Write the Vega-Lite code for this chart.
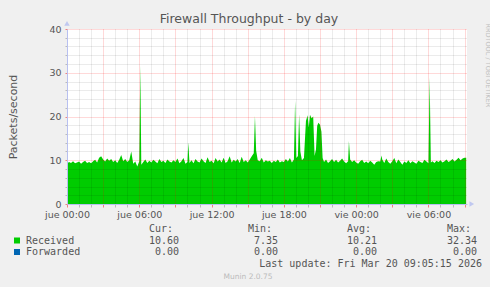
{
  "$schema": "https://vega.github.io/schema/vega-lite/v6.json",
  "background": "#f0f0f0",
  "padding": {"left": 7, "top": 13, "right": 0, "bottom": 10},
  "title": {"text": "Firewall Throughput - by day", "font": "DejaVu Sans", "fontSize": 12.5, "fontWeight": "normal", "color": "#555555", "anchor": "middle", "offset": -5},
  "config": {"view": {"stroke": null, "fill": null}, "font": "DejaVu Sans"},
  "spacing": 0,
  "datasets": {
    "traffic": [
      {"m":0,"v":9.2},{"m":10,"v":9.6},{"m":20,"v":9.4},{"m":30,"v":9.8},{"m":40,"v":9.3},{"m":50,"v":9.5},
      {"m":60,"v":9.7},{"m":70,"v":9.2},{"m":80,"v":9.6},{"m":90,"v":9.9},{"m":100,"v":9.4},{"m":110,"v":9.6},
      {"m":120,"v":9.3},{"m":130,"v":9.8},{"m":140,"v":10.1},{"m":150,"v":9.5},{"m":160,"v":10.6},{"m":170,"v":10.9},
      {"m":180,"v":10.2},{"m":190,"v":9.7},{"m":200,"v":10.4},{"m":210,"v":9.9},{"m":220,"v":10.3},{"m":230,"v":9.6},
      {"m":240,"v":10.0},{"m":250,"v":9.4},{"m":260,"v":10.1},{"m":270,"v":11.2},{"m":280,"v":9.8},{"m":290,"v":10.3},
      {"m":300,"v":9.6},{"m":310,"v":10.0},{"m":320,"v":12.0},{"m":330,"v":9.2},{"m":340,"v":9.7},{"m":350,"v":8.6},
      {"m":360,"v":9.8},{"m":365,"v":31.6},{"m":370,"v":9.0},{"m":380,"v":9.6},{"m":390,"v":10.2},{"m":400,"v":9.4},{"m":410,"v":9.9},
      {"m":420,"v":9.5},{"m":430,"v":10.1},{"m":440,"v":9.7},{"m":450,"v":9.3},{"m":460,"v":10.3},{"m":470,"v":9.6},
      {"m":480,"v":9.9},{"m":490,"v":9.4},{"m":500,"v":10.2},{"m":510,"v":9.7},{"m":520,"v":9.5},{"m":530,"v":10.0},
      {"m":540,"v":9.6},{"m":550,"v":10.4},{"m":560,"v":9.3},{"m":570,"v":9.8},{"m":580,"v":10.5},{"m":590,"v":9.2},
      {"m":600,"v":9.6},{"m":604,"v":14.1},{"m":610,"v":9.4},{"m":620,"v":10.0},{"m":630,"v":9.3},{"m":640,"v":10.3},{"m":650,"v":9.7},
      {"m":660,"v":9.5},{"m":670,"v":10.4},{"m":680,"v":9.8},{"m":690,"v":9.4},{"m":700,"v":10.7},{"m":710,"v":9.6},
      {"m":720,"v":9.9},{"m":730,"v":9.3},{"m":740,"v":10.5},{"m":750,"v":9.7},{"m":760,"v":10.2},{"m":770,"v":9.5},
      {"m":780,"v":10.6},{"m":790,"v":9.4},{"m":800,"v":9.8},{"m":810,"v":10.9},{"m":820,"v":9.5},{"m":830,"v":10.1},
      {"m":840,"v":9.7},{"m":850,"v":10.3},{"m":860,"v":9.4},{"m":870,"v":10.8},{"m":880,"v":9.6},{"m":890,"v":10.0},
      {"m":900,"v":9.5},{"m":910,"v":10.2},{"m":920,"v":10.9},{"m":930,"v":11.6},{"m":936,"v":20.1},{"m":942,"v":12.2},{"m":950,"v":10.0},
      {"m":960,"v":9.8},{"m":970,"v":10.6},{"m":980,"v":9.5},{"m":990,"v":10.0},{"m":1000,"v":9.7},{"m":1010,"v":9.9},
      {"m":1020,"v":9.4},{"m":1030,"v":9.9},{"m":1040,"v":9.6},{"m":1050,"v":10.2},{"m":1060,"v":9.5},{"m":1070,"v":9.8},
      {"m":1080,"v":9.6},{"m":1090,"v":10.3},{"m":1100,"v":9.7},{"m":1110,"v":10.5},{"m":1120,"v":9.5},{"m":1130,"v":10.2},
      {"m":1136,"v":23.6},{"m":1142,"v":10.5},{"m":1150,"v":11.0},{"m":1156,"v":20.6},{"m":1162,"v":12.0},{"m":1170,"v":10.0},
      {"m":1180,"v":10.5},{"m":1190,"v":19.0},{"m":1198,"v":20.3},{"m":1204,"v":17.5},{"m":1210,"v":20.4},{"m":1218,"v":19.6},
      {"m":1226,"v":20.0},{"m":1233,"v":11.0},{"m":1240,"v":12.5},{"m":1246,"v":17.9},{"m":1252,"v":18.6},{"m":1260,"v":18.1},
      {"m":1267,"v":16.5},{"m":1273,"v":10.5},{"m":1280,"v":9.6},{"m":1290,"v":10.2},{"m":1300,"v":9.4},{"m":1310,"v":9.8},
      {"m":1320,"v":10.3},{"m":1330,"v":9.6},{"m":1340,"v":10.1},{"m":1350,"v":9.5},{"m":1360,"v":9.9},{"m":1370,"v":10.4},
      {"m":1380,"v":9.7},{"m":1390,"v":9.3},{"m":1400,"v":9.8},{"m":1404,"v":14.4},{"m":1410,"v":10.2},{"m":1420,"v":9.6},{"m":1430,"v":10.0},
      {"m":1440,"v":9.5},{"m":1450,"v":9.2},{"m":1460,"v":9.8},{"m":1470,"v":10.1},{"m":1480,"v":9.4},{"m":1490,"v":9.7},
      {"m":1500,"v":9.3},{"m":1510,"v":9.9},{"m":1520,"v":9.5},{"m":1530,"v":9.0},{"m":1540,"v":9.6},{"m":1550,"v":9.8},
      {"m":1560,"v":9.7},{"m":1566,"v":11.1},{"m":1570,"v":10.2},{"m":1580,"v":9.4},{"m":1590,"v":10.4},{"m":1600,"v":9.6},{"m":1610,"v":9.2},
      {"m":1620,"v":9.8},{"m":1630,"v":10.5},{"m":1640,"v":9.3},{"m":1650,"v":10.2},{"m":1660,"v":9.6},{"m":1670,"v":9.0},
      {"m":1680,"v":9.7},{"m":1690,"v":9.4},{"m":1700,"v":10.0},{"m":1710,"v":9.3},{"m":1720,"v":9.8},{"m":1730,"v":9.5},
      {"m":1740,"v":9.2},{"m":1750,"v":9.9},{"m":1760,"v":9.6},{"m":1770,"v":9.4},{"m":1780,"v":10.1},{"m":1790,"v":9.7},
      {"m":1800,"v":9.3},{"m":1806,"v":28.9},{"m":1812,"v":9.5},{"m":1820,"v":9.8},{"m":1830,"v":9.4},{"m":1840,"v":9.9},{"m":1850,"v":9.6},
      {"m":1860,"v":10.0},{"m":1870,"v":9.5},{"m":1880,"v":9.8},{"m":1890,"v":10.2},{"m":1900,"v":9.6},{"m":1910,"v":9.9},
      {"m":1920,"v":10.3},{"m":1930,"v":9.7},{"m":1940,"v":10.1},{"m":1950,"v":10.6},{"m":1960,"v":10.0},{"m":1970,"v":10.4},
      {"m":1980,"v":10.6},{"m":1988,"v":10.6}
    ],
    "swatch": [
      {"series": "Received", "col": 0, "row": 1},
      {"series": "Forwarded", "col": 0, "row": 2}
    ],
    "labels": [
      {"text": "Received", "col": 1, "row": 1},
      {"text": "Forwarded", "col": 1, "row": 2}
    ],
    "headers": [
      {"text": "Cur:", "col": 2, "row": 0},
      {"text": "Min:", "col": 3, "row": 0},
      {"text": "Avg:", "col": 4, "row": 0},
      {"text": "Max:", "col": 5, "row": 0}
    ],
    "values": [
      {"text": "10.60", "col": 2, "row": 1},
      {"text": "7.35", "col": 3, "row": 1},
      {"text": "10.21", "col": 4, "row": 1},
      {"text": "32.34", "col": 5, "row": 1},
      {"text": "0.00", "col": 2, "row": 2},
      {"text": "0.00", "col": 3, "row": 2},
      {"text": "0.00", "col": 4, "row": 2},
      {"text": "0.00", "col": 5, "row": 2},
      {"text": "Last update: Fri Mar 20 09:05:15 2026", "col": 6, "row": 3}
    ],
    "footer": [
      {"text": "Munin 2.0.75", "col": 7, "row": 4}
    ]
  },
  "vconcat": [
    {
      "width": 400,
      "height": 175,
      "view": {"fill": "white", "stroke": null},
      "resolve": {"axis": {"x": "independent", "y": "independent"}},
      "layer": [
        {
          "data": {"name": "traffic"},
          "mark": {"type": "area", "color": "#00cc00", "interpolate": "linear", "opacity": 1},
          "encoding": {
            "x": {
              "field": "m", "type": "quantitative",
              "scale": {"domain": [0, 1992], "nice": false, "zero": false},
              "axis": {
                "values": [0,60,120,180,240,300,360,420,480,540,600,660,720,780,840,900,960,1020,1080,1140,1200,1260,1320,1380,1440,1500,1560,1620,1680,1740,1800,1860,1920,1980],
                "grid": true, "gridDash": [1, 1],
                "gridColor": {"condition": {"test": "datum.value % 180 === 0", "value": "rgba(255,0,0,0.3)"}, "value": "rgba(0,0,0,0.15)"},
                "tickColor": {"condition": {"test": "datum.value % 180 === 0", "value": "#f08080"}, "value": "#bbbbbb"},
                "tickSize": 3,
                "domainColor": "#b8c0f0",
                "labelExpr": "datum.value % 360 === 0 ? (datum.value < 1440 ? 'jue ' : 'vie ') + (floor(datum.value / 60) % 24 < 10 ? '0' : '') + (floor(datum.value / 60) % 24) + ':00' : ''",
                "labelFont": "DejaVu Sans", "labelFontSize": 9.5, "labelColor": "#555555",
                "labelPadding": 2, "labelFlush": false, "labelOverlap": false,
                "title": null, "zindex": 1
              }
            },
            "y": {
              "field": "v", "type": "quantitative",
              "scale": {"domain": [0, 40], "nice": false, "zero": true},
              "axis": {
                "values": [0,2,4,6,8,10,12,14,16,18,20,22,24,26,28,30,32,34,36,38,40],
                "grid": true, "gridDash": [1, 1],
                "gridColor": {"condition": {"test": "datum.value % 10 === 0", "value": "rgba(255,0,0,0.3)"}, "value": "rgba(0,0,0,0.16)"},
                "tickColor": {"condition": {"test": "datum.value % 10 === 0", "value": "#f08080"}, "value": "#bbbbbb"},
                "tickSize": 2,
                "domainColor": "#b8c0f0",
                "labelExpr": "datum.value % 10 === 0 ? datum.label : ''",
                "labelFont": "DejaVu Sans", "labelFontSize": 9.5, "labelColor": "#555555",
                "labelPadding": 4, "labelFlush": false, "labelOverlap": false,
                "title": "Packets/second", "titleFont": "DejaVu Sans", "titleFontSize": 11,
                "titleFontWeight": "normal", "titleColor": "#555555", "titlePadding": 30,
                "zindex": 1
              }
            }
          }
        },
        {
          "data": {"values": [{}]},
          "mark": {"type": "point", "shape": "triangle-up", "filled": true, "size": 30, "color": "#c0c8f0", "opacity": 1},
          "encoding": {
            "x": {"datum": 0, "type": "quantitative", "scale": {"domain": [0, 1992], "nice": false, "zero": false}, "axis": null},
            "y": {"datum": 41.3, "type": "quantitative", "scale": {"domain": [0, 40], "nice": false, "zero": true}, "axis": null}
          }
        },
        {
          "data": {"values": [{}]},
          "mark": {"type": "point", "shape": "triangle-right", "filled": true, "size": 30, "color": "#c0c8f0", "opacity": 1},
          "encoding": {
            "x": {"datum": 2016, "type": "quantitative", "scale": {"domain": [0, 1992], "nice": false, "zero": false}, "axis": null},
            "y": {
              "datum": 0, "type": "quantitative",
              "scale": {"domain": [0, 40], "nice": false, "zero": true},
              "axis": {
                "orient": "right", "labels": false, "ticks": false, "domain": false, "grid": false,
                "title": "RRDTOOL / TOBI OETIKER", "titleAngle": 90, "titleFont": "DejaVu Sans",
                "titleFontSize": 6.5, "titleFontWeight": "normal", "titleColor": "#c0c0c0",
                "titleAlign": "left", "titleBaseline": "middle", "titleX": 20, "titleY": -6
              }
            }
          }
        }
      ]
    },
    {
      "width": 400,
      "height": 62,
      "layer": [
        {
          "data": {"name": "swatch"},
          "mark": {"type": "square", "size": 36, "opacity": 1, "filled": true},
          "encoding": {
            "x": {"field": "col", "type": "quantitative", "scale": {"domain": [0,1,2,3,4,5,6,7], "range": [-50,-41,112,211,310,410,415,181], "nice": false, "zero": false}, "axis": null},
            "y": {"field": "row", "type": "quantitative", "scale": {"domain": [0,1,2,3,4], "range": [10,21.5,33,45,58], "nice": false, "zero": false}, "axis": null},
            "color": {"field": "series", "type": "nominal", "scale": {"domain": ["Received", "Forwarded"], "range": ["#00cc00", "#0066b3"]}, "legend": null}
          }
        },
        {
          "data": {"name": "labels"},
          "mark": {"type": "text", "align": "left", "baseline": "middle", "font": "DejaVu Sans Mono", "fontSize": 10, "color": "#555555"},
          "encoding": {
            "x": {"field": "col", "type": "quantitative", "scale": {"domain": [0,1,2,3,4,5,6,7], "range": [-50,-41,112,211,310,410,415,181], "nice": false, "zero": false}, "axis": null},
            "y": {"field": "row", "type": "quantitative", "scale": {"domain": [0,1,2,3,4], "range": [10,21.5,33,45,58], "nice": false, "zero": false}, "axis": null},
            "text": {"field": "text"}
          }
        },
        {
          "data": {"name": "headers"},
          "mark": {"type": "text", "align": "right", "baseline": "middle", "dx": -6, "font": "DejaVu Sans Mono", "fontSize": 10, "color": "#555555"},
          "encoding": {
            "x": {"field": "col", "type": "quantitative", "scale": {"domain": [0,1,2,3,4,5,6,7], "range": [-50,-41,112,211,310,410,415,181], "nice": false, "zero": false}, "axis": null},
            "y": {"field": "row", "type": "quantitative", "scale": {"domain": [0,1,2,3,4], "range": [10,21.5,33,45,58], "nice": false, "zero": false}, "axis": null},
            "text": {"field": "text"}
          }
        },
        {
          "data": {"name": "values"},
          "mark": {"type": "text", "align": "right", "baseline": "middle", "font": "DejaVu Sans Mono", "fontSize": 10, "color": "#555555"},
          "encoding": {
            "x": {"field": "col", "type": "quantitative", "scale": {"domain": [0,1,2,3,4,5,6,7], "range": [-50,-41,112,211,310,410,415,181], "nice": false, "zero": false}, "axis": null},
            "y": {"field": "row", "type": "quantitative", "scale": {"domain": [0,1,2,3,4], "range": [10,21.5,33,45,58], "nice": false, "zero": false}, "axis": null},
            "text": {"field": "text"}
          }
        },
        {
          "data": {"name": "footer"},
          "mark": {"type": "text", "align": "center", "baseline": "middle", "font": "DejaVu Sans", "fontSize": 7.5, "color": "#bbbbbb"},
          "encoding": {
            "x": {"field": "col", "type": "quantitative", "scale": {"domain": [0,1,2,3,4,5,6,7], "range": [-50,-41,112,211,310,410,415,181], "nice": false, "zero": false}, "axis": null},
            "y": {"field": "row", "type": "quantitative", "scale": {"domain": [0,1,2,3,4], "range": [10,21.5,33,45,58], "nice": false, "zero": false}, "axis": null},
            "text": {"field": "text"}
          }
        }
      ]
    }
  ]
}
